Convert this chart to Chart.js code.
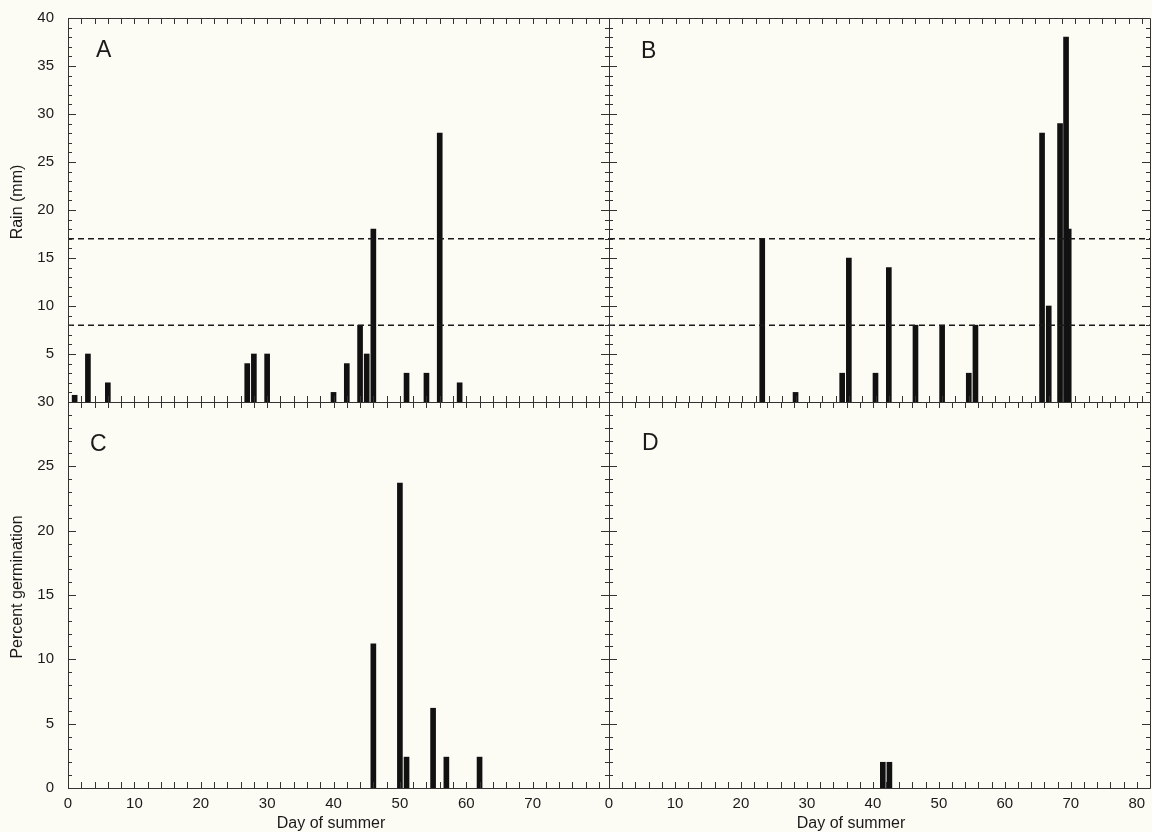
<!DOCTYPE html>
<html>
<head>
<meta charset="utf-8">
<script src="https://cdn.jsdelivr.net/npm/chart.js@4"></script>
<style>
  html, body { margin: 0; padding: 0; background: #fcfcf4; }
  #wrap { position: relative; width: 1152px; height: 832px; overflow: hidden;
          font-family: "Liberation Sans", Arial, sans-serif; color: #1a1a1a; }
  #wrap canvas { position: absolute; left: 0; top: 0; }
  .lbl { position: absolute; white-space: nowrap; }
  .panel { font-size: 23px; }
  .ytitle { font-size: 16px; transform: translate(-50%, -50%) rotate(-90deg); }
  .xtitle { font-size: 16px; transform: translate(-50%, -50%); }
</style>
</head>
<body>
<div id="wrap">
  <canvas id="cA" width="1152" height="832"></canvas>
  <canvas id="cB" width="1152" height="832"></canvas>
  <canvas id="cC" width="1152" height="832"></canvas>
  <canvas id="cD" width="1152" height="832"></canvas>
  <div class="lbl panel" style="left:96px; top:36px;">A</div>
  <div class="lbl panel" style="left:641px; top:37px;">B</div>
  <div class="lbl panel" style="left:90px; top:430px;">C</div>
  <div class="lbl panel" style="left:642px; top:429px;">D</div>
  <div class="lbl ytitle" style="left:17px; top:202px;">Rain (mm)</div>
  <div class="lbl ytitle" style="left:17px; top:587px;">Percent germination</div>
  <div class="lbl xtitle" style="left:331px; top:823px;">Day of summer</div>
  <div class="lbl xtitle" style="left:851px; top:823px;">Day of summer</div>
</div>
<script>
// rain per day (panels A and B)
const rainDaysA = [1, 3, 6, 27, 28, 30, 40, 42, 44, 45, 46, 51, 54, 56, 59];
const rainA = [0.7, 5, 2, 4, 5, 5, 1, 4, 8, 5, 18, 3, 3, 28, 2];
const rainDaysB = [23, 28, 35, 36, 40, 42, 46, 50, 54, 55, 65, 66, 67.7, 68.6, 69];
const rainB = [17, 1, 3, 15, 3, 14, 8, 8, 3, 8, 28, 10, 29, 38, 18];

// germination per day (panels C and D)
const germDaysC = [46, 50, 51, 55, 57, 62];
const germC = [11.2, 23.7, 2.4, 6.2, 2.4, 2.4];
const germDaysD = [41.5, 42.5];
const germD = [2, 2];

// dashed rain thresholds (mm)
const thresholds = [8, 17];

const rainMax = 40;
const germMax = 30;
const xMaxLeft = 81.5;
const xMaxB = 81.2;
const xMaxD = 82;

const W = 1152, H = 832;
const FONT = { family: "'Liberation Sans', Arial, sans-serif", size: 15 };

// box outline + inward tick marks on all four sides
const frameTicks = {
  id: "frameTicks",
  afterDatasetsDraw(chart, args, opts) {
    const { ctx, chartArea: a, scales: { x, y } } = chart;
    ctx.save();
    ctx.strokeStyle = "#333";
    ctx.lineWidth = 1;
    ctx.beginPath();
    ctx.rect(Math.round(a.left) + 0.5, Math.round(a.top) + 0.5,
             Math.round(a.right - a.left), Math.round(a.bottom - a.top));
    for (let d = 0; d <= x.max; d += opts.xStep) {
      const px = Math.round(x.getPixelForValue(d)) + 0.5;
      ctx.moveTo(px, a.bottom); ctx.lineTo(px, a.bottom - 6);
      ctx.moveTo(px, a.top); ctx.lineTo(px, a.top + 6);
    }
    for (let v = 0; v <= y.max; v += opts.yStep) {
      const py = Math.round(y.getPixelForValue(v)) + 0.5;
      const len = v % 5 === 0 ? 8 : 4;
      ctx.moveTo(a.left, py); ctx.lineTo(a.left + len, py);
      ctx.moveTo(a.right, py); ctx.lineTo(a.right - len, py);
    }
    ctx.stroke();
    ctx.restore();
  }
};

function makePanel(id, box, cfg) {
  const datasets = [{
    type: "bar",
    data: cfg.days.map((d, i) => ({ x: d, y: cfg.values[i] })),
    backgroundColor: "#111",
    barThickness: 5,
    order: 2
  }];
  (cfg.lines || []).forEach((t) => {
    datasets.push({
      type: "line",
      data: [{ x: 0, y: t }, { x: cfg.xMax, y: t }],
      borderColor: "#1a1a1a",
      borderWidth: 1.4,
      borderDash: [6, 4],
      pointRadius: 0,
      order: 1
    });
  });
  // room kept for the tick labels (labels are clipped to the scale box)
  const yW = cfg.yLabels ? box[0] : 0;
  const xH = cfg.xLabels ? H - box[3] : 0;
  return new Chart(document.getElementById(id), {
    data: { datasets },
    plugins: [frameTicks],
    options: {
      responsive: false,
      animation: false,
      events: [],
      layout: { padding: { left: box[0] - yW, top: box[1], right: W - box[2], bottom: H - box[3] - xH } },
      plugins: {
        legend: { display: false },
        tooltip: { enabled: false },
        frameTicks: { xStep: 2, yStep: 1 }
      },
      scales: {
        x: {
          type: "linear", min: 0, max: cfg.xMax, offset: false,
          grid: { display: false, drawTicks: false }, border: { display: false },
          ticks: {
            display: cfg.xLabels, stepSize: 10, padding: 7, includeBounds: false,
            color: "#1a1a1a", font: FONT, maxRotation: 0, autoSkip: false,
            callback: (v) => (v <= cfg.xLabelMax ? v : "")
          },
          afterFit: (s) => { s.height = xH; s.paddingLeft = 0; s.paddingRight = 0; }
        },
        y: {
          type: "linear", min: 0, max: cfg.yMax,
          grid: { display: false, drawTicks: false }, border: { display: false },
          ticks: {
            display: cfg.yLabels, stepSize: 5, padding: 14, includeBounds: false,
            color: "#1a1a1a", font: FONT, autoSkip: false,
            callback: (v) => (v >= cfg.yLabelMin ? v : "")
          },
          afterFit: (s) => { s.width = yW; s.paddingTop = 0; s.paddingBottom = 0; }
        }
      }
    }
  });
}

makePanel("cA", [68, 18, 609, 402], {
  days: rainDaysA, values: rainA, lines: thresholds, xMax: xMaxLeft, yMax: rainMax,
  xLabels: false, yLabels: true, yLabelMin: 5, xLabelMax: 80
});
makePanel("cB", [609, 18, 1150, 402], {
  days: rainDaysB, values: rainB, lines: thresholds, xMax: xMaxB, yMax: rainMax,
  xLabels: false, yLabels: false, yLabelMin: 5, xLabelMax: 80
});
makePanel("cC", [68, 402, 609, 788], {
  days: germDaysC, values: germC, xMax: xMaxLeft, yMax: germMax,
  xLabels: true, yLabels: true, yLabelMin: 0, xLabelMax: 70
});
makePanel("cD", [609, 402, 1150, 788], {
  days: germDaysD, values: germD, xMax: xMaxD, yMax: germMax,
  xLabels: true, yLabels: false, yLabelMin: 0, xLabelMax: 80
});
</script>
</body>
</html>
